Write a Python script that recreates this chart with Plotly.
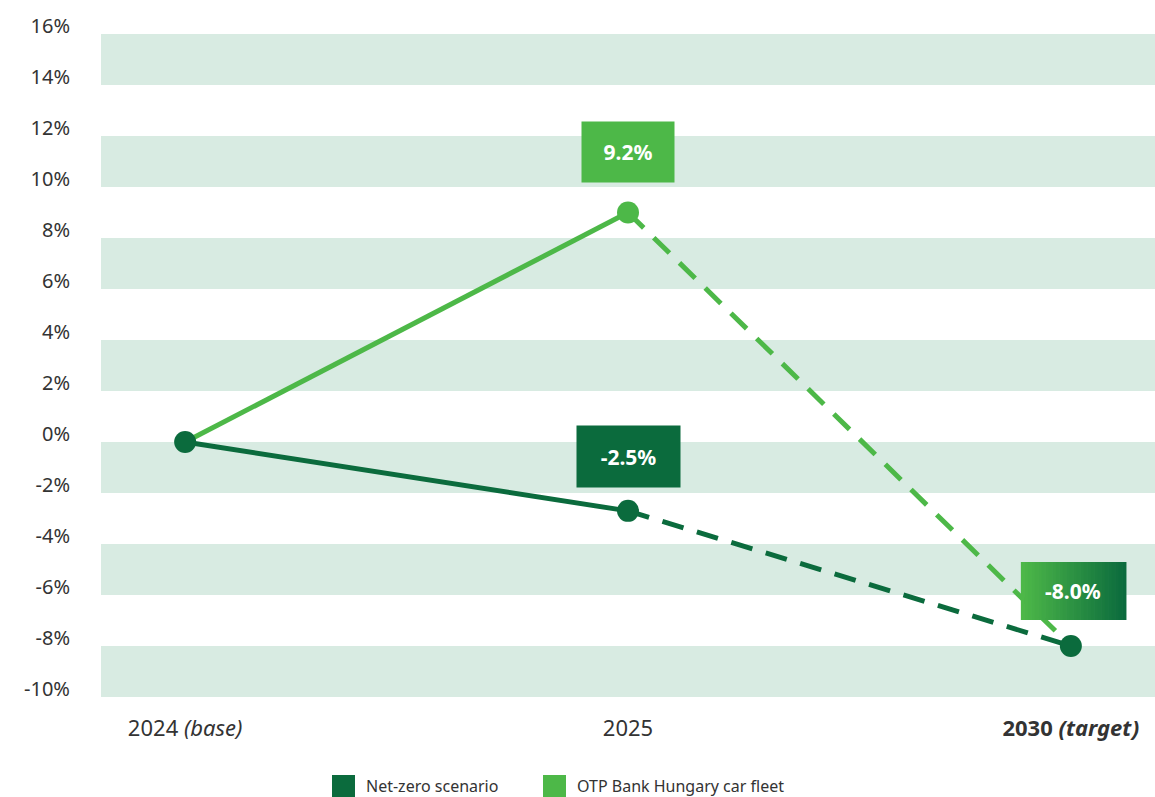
import plotly.graph_objects as go

# ---- data ----
categories = ["2024 <i>(base)</i>", "2025", "<b>2030 <i>(target)</i></b>"]
x_pos = [0, 1, 2]
net_zero = [0.0, -2.7, -8.0]
fleet = [0.0, 9.0, -8.0]
net_zero_label = "-2.5%"
fleet_label = "9.2%"
target_label = "-8.0%"
series_names = ["Net-zero scenario", "OTP Bank Hungary car fleet"]
y_ticks = list(range(-10, 17, 2))
band_ranges = [(-10, -8), (-6, -4), (-2, 0), (2, 4), (6, 8), (10, 12), (14, 16)]

DARK = "#0b6b3d"
LIGHT = "#4db848"
BAND = "#d8ebe2"
FONT = "Noto Sans"
TEXT = "#333333"

W, H = 1155, 797
ML, MR, MT = 101, 0, 34
PH = 663
MB = H - MT - PH
PW = W - ML - MR

def px_x(p):  # screen px -> paper
    return (p - ML) / PW

def px_y(p):
    return (MT + PH - p) / PH

fig = go.Figure()

# fleet lines
fig.add_trace(go.Scatter(x=x_pos[:2], y=fleet[:2], mode="lines",
                         line=dict(color=LIGHT, width=5), showlegend=False, hoverinfo="skip"))
fig.add_trace(go.Scatter(x=x_pos[1:], y=fleet[1:], mode="lines",
                         line=dict(color=LIGHT, width=5, dash="22px,14px"), showlegend=False, hoverinfo="skip"))
# net zero lines
fig.add_trace(go.Scatter(x=x_pos[:2], y=net_zero[:2], mode="lines",
                         line=dict(color=DARK, width=5), showlegend=False, hoverinfo="skip"))
fig.add_trace(go.Scatter(x=x_pos[1:], y=net_zero[1:], mode="lines",
                         line=dict(color=DARK, width=5, dash="22px,14px"), showlegend=False, hoverinfo="skip"))
# markers
fig.add_trace(go.Scatter(x=[x_pos[1]], y=[fleet[1]], mode="markers",
                         marker=dict(color=LIGHT, size=22), showlegend=False, name=series_names[1]))
fig.add_trace(go.Scatter(x=x_pos, y=net_zero, mode="markers",
                         marker=dict(color=DARK, size=22), showlegend=False, name=series_names[0]))

# background bands
for lo, hi in band_ranges:
    fig.add_shape(type="rect", xref="paper", yref="y", x0=0, x1=1, y0=lo, y1=hi,
                  fillcolor=BAND, line=dict(width=0), layer="below")

# label boxes
fig.add_annotation(x=x_pos[1], y=fleet[1], yshift=61, text=f"<b>{fleet_label}</b>",
                   showarrow=False, bgcolor=LIGHT, width=90, height=58,
                   font=dict(color="white", size=21, family=FONT))
fig.add_annotation(x=x_pos[1], y=net_zero[1], yshift=54, text=f"<b>{net_zero_label}</b>",
                   showarrow=False, bgcolor=DARK, width=101, height=59,
                   font=dict(color="white", size=21, family=FONT))

# gradient box for target
def lerp(c1, c2, t):
    a = [int(c1[i:i + 2], 16) for i in (1, 3, 5)]
    b = [int(c2[i:i + 2], 16) for i in (1, 3, 5)]
    return "#" + "".join(f"{round(a[k] + (b[k] - a[k]) * t):02x}" for k in range(3))

n = 30
bw = 105
left = -50
for i in range(n):
    fig.add_shape(type="rect", xref="x", yref="y",
                  xsizemode="pixel", ysizemode="pixel",
                  xanchor=x_pos[2], yanchor=fleet[2],
                  x0=left + bw * i / n, x1=left + bw * (i + 1) / n + 0.6,
                  y0=55 - 29, y1=55 + 29,
                  fillcolor=lerp(LIGHT, DARK, i / (n - 1)), line=dict(width=0), layer="above")
fig.add_annotation(x=x_pos[2], y=fleet[2], yshift=55, xshift=2, text=f"<b>{target_label}</b>",
                   showarrow=False, font=dict(color="white", size=21, family=FONT))

# manual legend (squares + labels), positions in screen pixels
legend_items = [(332, DARK, series_names[0]), (543, LIGHT, series_names[1])]
for x0, col, name in legend_items:
    fig.add_shape(type="rect", xref="paper", yref="paper",
                  x0=px_x(x0), x1=px_x(x0 + 23), y0=px_y(797), y1=px_y(775),
                  fillcolor=col, line=dict(width=0))
    fig.add_annotation(xref="paper", yref="paper", x=px_x(x0 + 32), y=px_y(786),
                       xanchor="left", yanchor="middle", text=name, showarrow=False,
                       font=dict(size=16, color=TEXT, family=FONT))

fig.update_layout(
    width=W, height=H,
    margin=dict(l=ML, r=MR, t=MT, b=MB),
    paper_bgcolor="white", plot_bgcolor="white",
    font=dict(family=FONT, color=TEXT),
    showlegend=False,
    xaxis=dict(range=[-0.19, 2.19], tickvals=x_pos, ticktext=categories,
               showgrid=False, zeroline=False, showline=False, automargin=False,
               tickfont=dict(size=22, color=TEXT), ticklabelstandoff=16, fixedrange=True),
    yaxis=dict(range=[-10, 16], tickvals=y_ticks,
               ticktext=[f"{v}%" for v in y_ticks],
               showgrid=False, zeroline=False, showline=False, automargin=False,
               tickfont=dict(size=20, color=TEXT), ticklabelshift=-8,
               ticklabelstandoff=30, fixedrange=True),
)

fig.write_html("out.html", config={"displayModeBar": False},
               post_script="document.body.style.margin='0';document.body.style.overflow='hidden';")
